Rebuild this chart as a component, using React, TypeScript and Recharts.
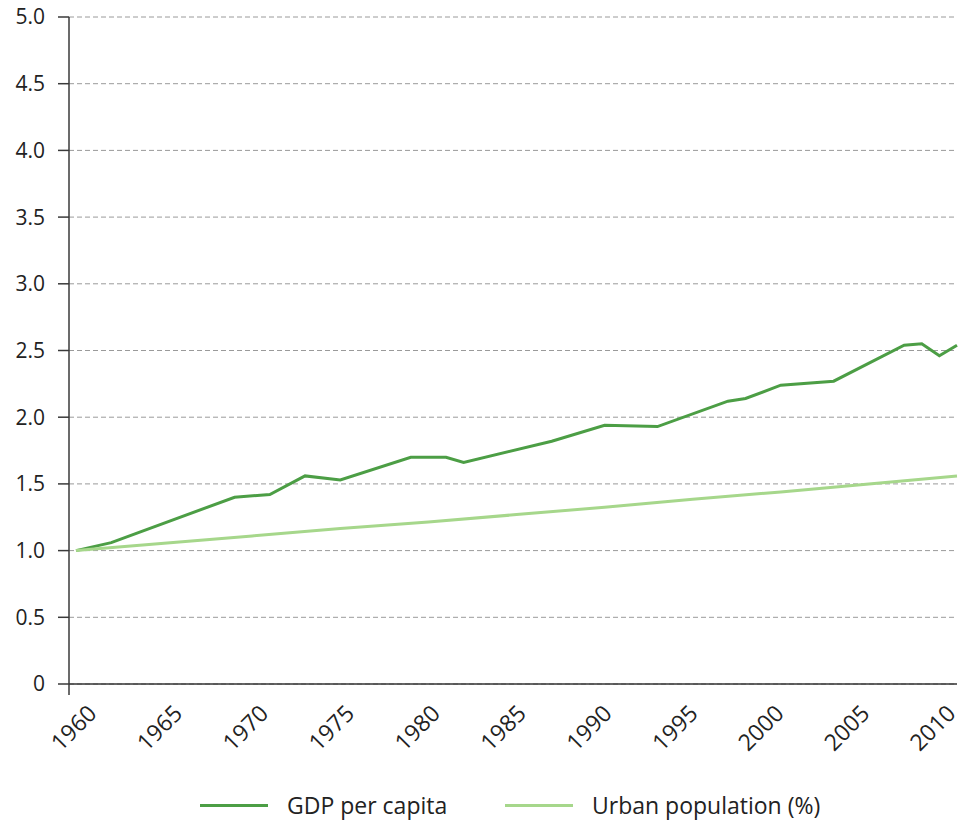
import React from 'react';
import { LineChart, Line, XAxis, YAxis, CartesianGrid, ReferenceLine, Legend } from 'recharts';

const gdpYears = [1960, 1962, 1969, 1971, 1973, 1975, 1979, 1981, 1982, 1987, 1990, 1993, 1997, 1998, 2000, 2003, 2007, 2008, 2009, 2010];
const gdpValues = [1.0, 1.06, 1.4, 1.42, 1.56, 1.53, 1.7, 1.7, 1.66, 1.82, 1.94, 1.93, 2.12, 2.14, 2.24, 2.27, 2.54, 2.55, 2.46, 2.54];
const urbanYears = [1960, 1965, 1970, 1975, 1980, 1985, 1990, 1995, 2000, 2005, 2010];
const urbanValues = [1.0, 1.055, 1.11, 1.165, 1.215, 1.27, 1.325, 1.385, 1.44, 1.5, 1.56];
const yearTicks = [1960, 1965, 1970, 1975, 1980, 1985, 1990, 1995, 2000, 2005, 2010];
const valueTicks = [0, 0.5, 1, 1.5, 2, 2.5, 3, 3.5, 4, 4.5, 5];
const seriesNames = ['GDP per capita', 'Urban population (%)'];
const seriesColors = ['#4c9e45', '#a6d78b'];

const gdpData = gdpYears.map((year, i) => ({ year, value: gdpValues[i] }));
const urbanData = urbanYears.map((year, i) => ({ year, value: urbanValues[i] }));

const FONT = '"Open Sans", "Noto Sans", sans-serif';
const W = 963;
const H = 813;

const YearTick = (props: any) => {
  const { x, y, payload } = props;
  const ty = y - 10;
  return (
    <text
      x={x}
      y={ty}
      transform={`rotate(-45, ${x}, ${ty})`}
      textAnchor="end"
      fontSize={23}
      fontFamily={FONT}
      fill="#222"
    >
      {payload.value}
    </text>
  );
};

const legendLefts = [192, 497];

const renderLegend = () => (
  <div style={{ position: 'relative', width: W, height: 32, fontFamily: FONT, fontSize: 23, color: '#222' }}>
    {seriesNames.map((name, i) => (
      <div key={name} style={{ position: 'absolute', left: legendLefts[i], top: 0, height: 32, display: 'flex', alignItems: 'center' }}>
        <div style={{ width: 68, height: 3, background: seriesColors[i] }} />
        <span style={{ marginLeft: 19, lineHeight: '32px', whiteSpace: 'nowrap' }}>{name}</span>
      </div>
    ))}
  </div>
);

export default function App() {
  return (
    <div style={{ width: W, height: H, fontFamily: FONT }}>
      <LineChart width={W} height={H} data={urbanData} margin={{ top: 9, right: 14, bottom: 0, left: 0 }}>
        <CartesianGrid
          horizontal
          vertical={false}
          stroke="#9a9a9a"
          strokeDasharray="5 3"
          xAxisId="data"
          horizontalValues={valueTicks}
        />
        <XAxis
          xAxisId="data"
          dataKey="year"
          type="number"
          domain={[1960, 2010]}
          padding={{ left: 7, right: 0 }}
          hide
        />
        <XAxis
          xAxisId="labels"
          dataKey="year"
          type="number"
          domain={[1960, 2010]}
          ticks={yearTicks}
          interval={0}
          padding={{ left: 29, right: 0 }}
          axisLine={false}
          tickLine={false}
          tickSize={0}
          tickMargin={0}
          height={94}
          tick={YearTick}
        />
        <YAxis
          type="number"
          domain={[0, 5]}
          ticks={valueTicks}
          interval={0}
          width={61}
          padding={{ top: 0, bottom: 11 }}
          stroke="#3a3a3a"
          strokeWidth={1.5}
          tickSize={11}
          tickMargin={13}
          tick={{ fill: '#222', fontSize: 21, fontFamily: FONT }}
          tickFormatter={(v: number) => (v === 0 ? '0' : v.toFixed(1))}
        />
        <ReferenceLine xAxisId="data" y={0} stroke="#333" strokeWidth={1.5} />
        <Line
          xAxisId="data"
          data={gdpData}
          dataKey="value"
          name={seriesNames[0]}
          type="linear"
          stroke={seriesColors[0]}
          strokeWidth={3}
          dot={false}
          isAnimationActive={false}
        />
        <Line
          xAxisId="data"
          data={urbanData}
          dataKey="value"
          name={seriesNames[1]}
          type="linear"
          stroke={seriesColors[1]}
          strokeWidth={3}
          dot={false}
          isAnimationActive={false}
        />
        <Legend
          verticalAlign="bottom"
          height={32}
          wrapperStyle={{ left: 0, width: W, bottom: 0 }}
          content={renderLegend}
        />
      </LineChart>
    </div>
  );
}
